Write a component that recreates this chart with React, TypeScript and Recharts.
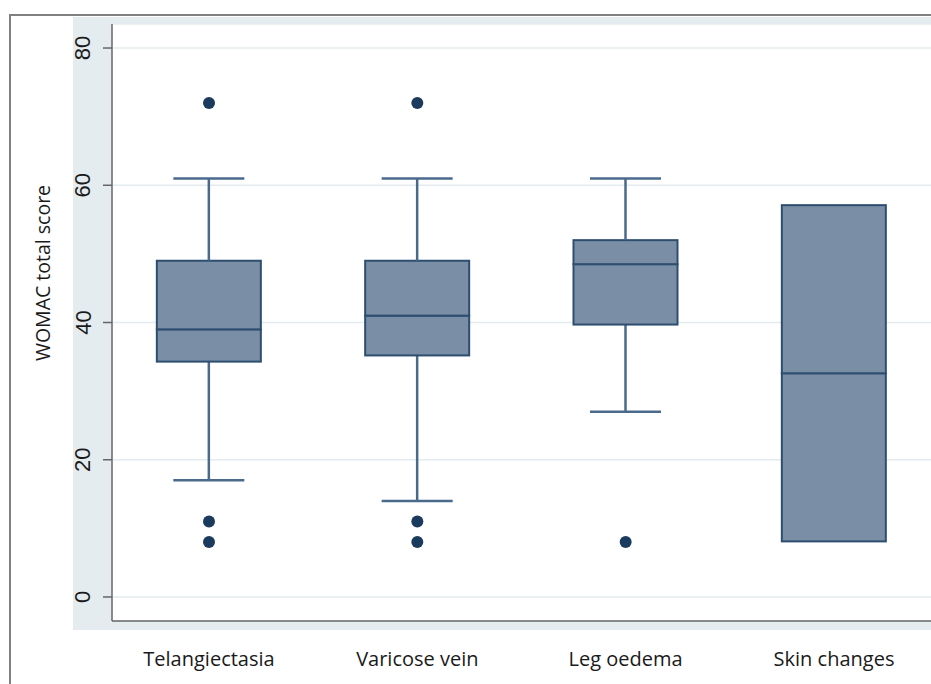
import { ComposedChart, Bar, Scatter, XAxis, YAxis, CartesianGrid } from 'recharts';

const categories = ['Telangiectasia', 'Varicose vein', 'Leg oedema', 'Skin changes'];
const whiskerLow = [17, 14, 27, 8.1];
const q1 = [34.3, 35.2, 39.7, 8.1];
const median = [39, 41, 48.5, 32.6];
const q3 = [49, 49, 52, 57.1];
const whiskerHigh = [61, 61, 61, 57.1];
const outliers = [[72, 11, 8], [72, 11, 8], [8], []];
const yTicks = [0, 20, 40, 60, 80];

const boxData = categories.map((name, i) => ({
  x: i + 1,
  name,
  base: whiskerLow[i],
  lowWhisker: q1[i] - whiskerLow[i],
  lowBox: median[i] - q1[i],
  highBox: q3[i] - median[i],
  highWhisker: whiskerHigh[i] - q3[i],
}));

const outlierData = outliers.flatMap((vals, i) => vals.map((y) => ({ x: i + 1, y })));

const BOX_FILL = '#7a8ea6';
const BOX_STROKE = '#2e4e70';
const WHISKER = '#4a6a8c';
const DOT = '#1a3a5e';

const BoxPart = (props: any) => {
  const { x, y, width, height } = props;
  if (!height || height < 0.5) return null;
  return <rect x={x} y={y} width={width} height={height} fill={BOX_FILL} stroke={BOX_STROKE} strokeWidth={2} />;
};

const makeWhisker = (capAtTop: boolean) => (props: any) => {
  const { x, y, width, height } = props;
  if (!height || height < 0.5) return null;
  const cx = x + width / 2;
  const capY = capAtTop ? y : y + height;
  return (
    <g>
      <line x1={cx} x2={cx} y1={y} y2={y + height} stroke={WHISKER} strokeWidth={2.5} />
      <line x1={cx - 35.5} x2={cx + 35.5} y1={capY} y2={capY} stroke={WHISKER} strokeWidth={2.5} />
    </g>
  );
};

const YTick = (props: any) => {
  const { x, y, payload } = props;
  return (
    <text
      x={x - 20}
      y={y}
      transform={`rotate(-90 ${x - 20} ${y})`}
      textAnchor="middle"
      dominantBaseline="central"
      fontFamily="Liberation Sans, Arial, sans-serif"
      fontSize={22}
      fill="#1a1a1a"
    >
      {payload.value}
    </text>
  );
};

const XTick = (props: any) => {
  const { x, y, payload } = props;
  return (
    <text x={x} y={y + 29} textAnchor="middle" dominantBaseline="central" fontFamily="Open Sans, sans-serif" fontSize={20} fill="#1a1a1a">
      {categories[payload.value - 1]}
    </text>
  );
};

export default function App() {
  return (
    <div style={{ position: 'absolute', left: 0, top: 0, width: 931, height: 684, background: '#fff', overflow: 'hidden' }}>
      <div style={{ position: 'absolute', left: 9, top: 14, width: 940, height: 700, borderLeft: '2px solid #808080', borderTop: '2px solid #808080' }} />
      <div style={{ position: 'absolute', left: 73, top: 17, width: 858, height: 613, background: '#e4ecef' }} />
      <div
        style={{
          position: 'absolute',
          left: 42,
          top: 273,
          transform: 'translate(-50%, -50%) rotate(-90deg)',
          whiteSpace: 'nowrap',
          fontFamily: 'Open Sans, sans-serif',
          fontSize: 19.5,
          color: '#1a1a1a',
        }}
      >
        WOMAC total score
      </div>
      <div style={{ position: 'absolute', left: 0, top: 0 }}>
        <ComposedChart width={931} height={684} data={boxData} margin={{ top: 24, right: 0, bottom: 0, left: 0 }}>
          <CartesianGrid vertical={false} stroke="#e3ebee" strokeWidth={1.5} fill="#fff" />
          <XAxis
            dataKey="x"
            type="number"
            domain={[0.5344, 4.4656]}
            ticks={[1, 2, 3, 4]}
            allowDataOverflow
            height={63}
            tickLine={false}
            axisLine={{ stroke: '#666', strokeWidth: 1.5 }}
            tick={<XTick />}
          />
          <YAxis
            type="number"
            domain={[-3.5, 83.5]}
            ticks={yTicks}
            allowDataOverflow
            width={112}
            tickSize={9}
            tickMargin={0}
            tickLine={{ stroke: '#666', strokeWidth: 1.5 }}
            axisLine={{ stroke: '#666', strokeWidth: 1.5 }}
            tick={<YTick />}
          />
          <Bar dataKey="base" stackId="box" fill="transparent" barSize={104} isAnimationActive={false} />
          <Bar dataKey="lowWhisker" stackId="box" barSize={104} shape={makeWhisker(false)} isAnimationActive={false} />
          <Bar dataKey="lowBox" stackId="box" barSize={104} shape={BoxPart} isAnimationActive={false} />
          <Bar dataKey="highBox" stackId="box" barSize={104} shape={BoxPart} isAnimationActive={false} />
          <Bar dataKey="highWhisker" stackId="box" barSize={104} shape={makeWhisker(true)} isAnimationActive={false} />
          <Scatter
            data={outlierData}
            dataKey="y"
            isAnimationActive={false}
            shape={(p: any) => <circle cx={p.cx} cy={p.cy} r={6} fill={DOT} />}
          />
        </ComposedChart>
      </div>
    </div>
  );
}
